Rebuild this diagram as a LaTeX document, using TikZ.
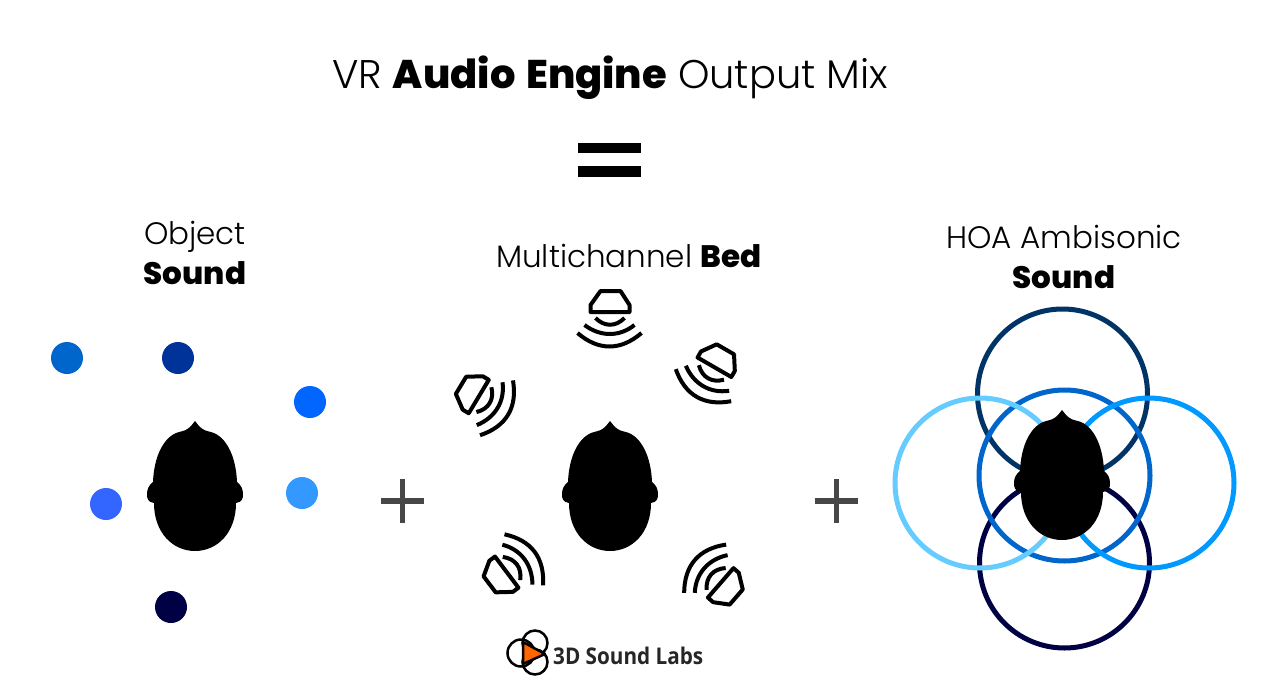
\documentclass[tikz,border=0pt]{standalone}
\usepackage{fontspec}
\setmainfont{Poppins}[UprightFont=* Light,BoldFont=* ExtraBold]
\newfontfamily\logofont{Open Sans}[FakeStretch=0.9]
\definecolor{cda}{RGB}{0,102,204}
\definecolor{cdb}{RGB}{0,51,153}
\definecolor{cdc}{RGB}{0,102,255}
\definecolor{cdd}{RGB}{51,153,255}
\definecolor{cde}{RGB}{51,102,255}
\definecolor{cdf}{RGB}{0,0,68}
\definecolor{rtop}{RGB}{0,51,102}
\definecolor{rleft}{RGB}{102,204,255}
\definecolor{rright}{RGB}{0,153,255}
\definecolor{rmid}{RGB}{0,102,204}
\definecolor{rbot}{RGB}{0,0,68}
\definecolor{logoorange}{RGB}{255,102,0}
\begin{document}
\begin{tikzpicture}[x=1pt,y=-1pt,
  headfill/.style={fill=black,draw=none},
  spk/.style={draw=black,line width=4pt,line join=round,line cap=round},
  arcline/.style={draw=black,line width=4pt},
  dotn/.style={circle,minimum size=32pt,inner sep=0pt,draw=none},
  ring/.style={draw=#1,line width=5pt},
  lbl/.style={font=\fontsize{31}{40}\selectfont,align=center,inner sep=0pt},
  plus/.style={draw=black!72,line width=5.5pt},
  logoring/.style={draw=black,line width=2.5pt},
  speaker/.pic={
    \draw[spk] (-9,-21) -- (11,-21) -- (20,-7) -- (20,0) -- (-19,0) -- (-19,-7) -- cycle;
    \draw[arcline] (-14,6) .. controls (-5,15) and (6,15) .. (15,6);
    \draw[arcline] (-25,13) .. controls (-9,25) and (10,25) .. (25,13);
    \draw[arcline] (-32,21) .. controls (-11,39) and (11,39) .. (32,21);
  },
  head/.pic={
    \path[headfill] (0,-67) -- (-4,-62) .. controls (-8,-58) and (-11,-57) .. (-16,-56)
      .. controls (-31,-52) and (-41,-32) .. (-42,-6) .. controls (-46,-3) and (-48,1) .. (-48,6)
      .. controls (-48,11) and (-47,14) .. (-41,15)
      .. controls (-41,45) and (-22,63) .. (0,63)
      .. controls (22,63) and (41,45) .. (41,15) .. controls (47,14) and (48,11) .. (48,6)
      .. controls (48,1) and (46,-3) .. (42,-6)
      .. controls (41,-32) and (31,-52) .. (16,-56)
      .. controls (11,-57) and (8,-58) .. (4,-62) -- cycle;
  }]
\useasboundingbox (0,0) rectangle (1275,680);
\fill[white] (0,0) rectangle (1275,680);
\node[lbl,font=\fontsize{40}{44}\selectfont] (title) at (610,78) {VR \textbf{Audio\hspace{3pt} Engine} Output Mix};
\fill[black] (578,143) rectangle (641,153);
\fill[black] (578,166) rectangle (641,177);
\node[lbl] (object) at (195,253) {Object\\\textbf{Sound}};
\node[lbl] (bed) at (629,256) {Multichannel \textbf{Bed}};
\node[lbl] (hoa) at (1064,257) {HOA Ambisonic\\\textbf{Sound}};
\node[dotn,fill=cda] (d1) at (67,358) {};
\node[dotn,fill=cdb] (d2) at (178,358) {};
\node[dotn,fill=cdc] (d3) at (310,402) {};
\node[dotn,fill=cdd] (d4) at (302,493) {};
\node[dotn,fill=cde] (d5) at (106,504) {};
\node[dotn,fill=cdf] (d6) at (171,607) {};
\pic at (195,488) {head};
\pic at (610,488) {head};
\draw[plus] (381,501) -- (424,501) (402.5,479) -- (402.5,523);
\draw[plus] (815,501) -- (858,501) (836.5,479) -- (836.5,523);
\pic[rotate=0] at (609.5,312) {speaker};
\pic[rotate=59] at (478.5,397) {speaker};
\pic[rotate=-30] at (714,367) {speaker};
\pic[rotate=127] at (507,572.5) {speaker};
\pic[rotate=-131] at (721,582.5) {speaker};
\draw[ring=rtop] (1062.5,394) circle (85);
\draw[ring=rbot] (1064.5,563) circle (85);
\draw[ring=rmid] (1064.5,475.5) circle (85.5);
\draw[ring=rleft] (980,483) circle (85);
\draw[ring=rright] (1149,483) circle (85);
\pic at (1062,477) {head};
% logo
\draw[logoring] (521,653) circle (13.5);
\draw[logoring] (535,643) circle (12.5);
\draw[logoring] (535,662) circle (12.5);
\filldraw[logoring,fill=logoorange,line join=round] (523,642) -- (545,654) -- (523,664) -- cycle;
\node[inner sep=0pt,anchor=west,font=\logofont\bfseries\fontsize{23}{25}\selectfont,text=black!85] (logo) at (553,656) {3D Sound Labs};
\end{tikzpicture}
\end{document}
